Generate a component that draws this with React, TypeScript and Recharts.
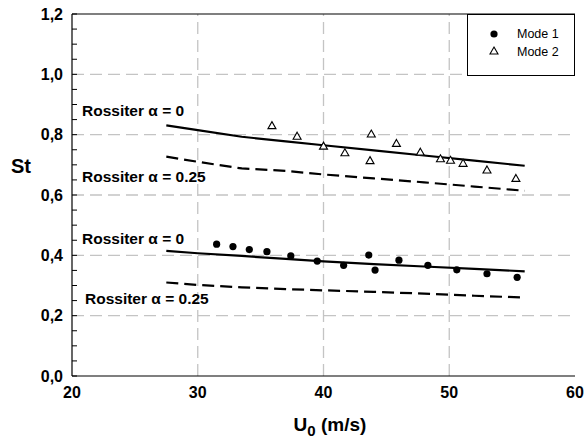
import { ComposedChart, Line, ReferenceLine, Scatter, XAxis, YAxis } from 'recharts'

// Rossiter prediction curves, sampled along U0
const rossiterU = [27.5, 30, 33.5, 37, 40, 44, 48, 52, 56]
const mode2Alpha0 = [0.831, 0.815, 0.793, 0.778, 0.765, 0.748, 0.731, 0.714, 0.697]
const mode2Alpha025 = [0.727, 0.71, 0.688, 0.68, 0.668, 0.655, 0.642, 0.628, 0.614]
const mode1Alpha0 = [0.415, 0.407, 0.398, 0.388, 0.38, 0.371, 0.363, 0.355, 0.347]
const mode1Alpha025 = [0.31, 0.302, 0.294, 0.288, 0.284, 0.279, 0.273, 0.266, 0.26]

// measured modes
const mode1U = [31.5, 32.8, 34.1, 35.5, 37.4, 39.5, 41.6, 43.6, 44.1, 46.0, 48.3, 50.6, 53.0, 55.4]
const mode1St = [0.437, 0.429, 0.419, 0.412, 0.398, 0.381, 0.367, 0.401, 0.351, 0.384, 0.367, 0.352, 0.339, 0.327]
const mode2U = [35.9, 37.9, 40.0, 41.7, 43.8, 43.7, 45.8, 47.7, 49.3, 50.1, 51.1, 53.0, 55.3]
const mode2St = [0.83, 0.795, 0.762, 0.74, 0.802, 0.714, 0.771, 0.742, 0.72, 0.715, 0.705, 0.683, 0.655]

const xTicks = [20, 30, 40, 50, 60]
const yMajor = [0, 0.2, 0.4, 0.6, 0.8, 1.0, 1.2]
const yMinor = [0, 0.05, 0.1, 0.15, 0.2, 0.25, 0.3, 0.35, 0.4, 0.45, 0.5, 0.55, 0.6, 0.65, 0.7, 0.75, 0.8, 0.85, 0.9, 0.95, 1.0, 1.05, 1.1, 1.15, 1.2]

const toPoints = (xs: number[], ys: number[]) => xs.map((u, i) => ({ u, st: ys[i] }))

const FONT = '"Liberation Sans", Arial, sans-serif'
const GRID = '#c4c4c4'

function isMajor(v: number) {
  return Math.abs(v * 5 - Math.round(v * 5)) < 1e-6
}

function LeftTick(props: any) {
  const { x, y, payload } = props
  const v = payload.value as number
  return (
    <g>
      <line x1={x} x2={x + 5} y1={y} y2={y} stroke="#000" strokeWidth={1} />
      {isMajor(v) && (
        <text x={x - 9} y={y} dy={5.5} textAnchor="end" fontSize={16} fontWeight="bold" fontFamily={FONT} fill="#000">
          {v.toFixed(1).replace('.', ',')}
        </text>
      )}
    </g>
  )
}

function RightTick(props: any) {
  const { x, y } = props
  return <line x1={x - 5} x2={x} y1={y} y2={y} stroke="#000" strokeWidth={1} />
}

function BottomTick(props: any) {
  const { x, y, payload } = props
  return (
    <text x={x} y={y + 22} textAnchor="middle" fontSize={16} fontWeight="bold" fontFamily={FONT} fill="#000">
      {payload.value}
    </text>
  )
}

function Dot(props: any) {
  const { cx, cy } = props
  return <circle cx={cx} cy={cy} r={3.6} fill="#000" />
}

function Triangle(props: any) {
  const { cx, cy } = props
  return (
    <path
      d={`M${cx},${cy - 4} L${cx + 4},${cy + 3} L${cx - 4},${cy + 3} Z`}
      fill="#fff"
      stroke="#000"
      strokeWidth={1.1}
    />
  )
}

const labelStyle: React.CSSProperties = {
  position: 'absolute',
  fontFamily: FONT,
  fontWeight: 'bold',
  fontSize: 15.5,
  whiteSpace: 'nowrap',
  lineHeight: 1,
}

function App() {
  return (
    <div style={{ position: 'absolute', left: 0, top: 0, width: 585, height: 443, background: '#fff', fontFamily: FONT }}>
      <ComposedChart width={585} height={443} margin={{ top: 14, right: 10, bottom: 37, left: 0 }}>
        <XAxis
          type="number"
          dataKey="u"
          domain={[20, 60]}
          ticks={xTicks}
          allowDataOverflow
          height={30}
          tickLine={false}
          tickSize={0}
          tickMargin={0}
          tick={<BottomTick />}
          axisLine={{ stroke: '#000', strokeWidth: 1.2 }}
        />
        <YAxis
          yAxisId="st"
          type="number"
          dataKey="st"
          domain={[0, 1.2]}
          ticks={yMinor}
          interval={0}
          allowDataOverflow
          width={72}
          tickLine={false}
          tickSize={0}
          tickMargin={0}
          tick={<LeftTick />}
          axisLine={{ stroke: '#000', strokeWidth: 1.2 }}
        />
        <YAxis
          yAxisId="right"
          orientation="right"
          type="number"
          domain={[0, 1.2]}
          ticks={yMinor}
          interval={0}
          allowDataOverflow
          width={0}
          tickLine={false}
          tickSize={0}
          tickMargin={0}
          tick={<RightTick />}
          axisLine={{ stroke: '#000', strokeWidth: 1.2 }}
        />
        {yMajor.slice(1, -1).map((v) => (
          <ReferenceLine key={`h${v}`} yAxisId="st" y={v} stroke={GRID} strokeWidth={1.3} strokeDasharray="12 6" />
        ))}
        {xTicks.slice(1, -1).map((v) => (
          <ReferenceLine key={`v${v}`} yAxisId="st" x={v} stroke={GRID} strokeWidth={1.3} strokeDasharray="12 6" />
        ))}
        <ReferenceLine yAxisId="st" y={1.2} stroke="#000" strokeWidth={1.2} />
        <Line yAxisId="st" data={toPoints(rossiterU, mode2Alpha0)} dataKey="st" stroke="#000" strokeWidth={2.2} dot={false} isAnimationActive={false} />
        <Line yAxisId="st" data={toPoints(rossiterU, mode2Alpha025)} dataKey="st" stroke="#000" strokeWidth={2.2} strokeDasharray="12 6" dot={false} isAnimationActive={false} />
        <Line yAxisId="st" data={toPoints(rossiterU, mode1Alpha0)} dataKey="st" stroke="#000" strokeWidth={2.2} dot={false} isAnimationActive={false} />
        <Line yAxisId="st" data={toPoints(rossiterU, mode1Alpha025)} dataKey="st" stroke="#000" strokeWidth={2.2} strokeDasharray="12 6" dot={false} isAnimationActive={false} />
        <Scatter yAxisId="st" name="Mode 1" data={toPoints(mode1U, mode1St)} dataKey="st" shape={<Dot />} isAnimationActive={false} />
        <Scatter yAxisId="st" name="Mode 2" data={toPoints(mode2U, mode2St)} dataKey="st" shape={<Triangle />} isAnimationActive={false} />
      </ComposedChart>

      <div style={{ ...labelStyle, left: 82, top: 103 }}>Rossiter α = 0</div>
      <div style={{ ...labelStyle, left: 82, top: 169 }}>Rossiter α = 0.25</div>
      <div style={{ ...labelStyle, left: 82, top: 231 }}>Rossiter α = 0</div>
      <div style={{ ...labelStyle, left: 85, top: 291 }}>Rossiter α = 0.25</div>

      <div style={{ ...labelStyle, fontSize: 20, left: 11, top: 156 }}>St</div>
      <div style={{ ...labelStyle, fontSize: 19, left: 0, width: 660, textAlign: 'center', top: 415 }}>
        U<sub style={{ fontSize: 15, verticalAlign: -5 }}>0</sub> (m/s)
      </div>

      <div
        style={{
          position: 'absolute',
          left: 467,
          top: 14,
          width: 108,
          height: 62,
          boxSizing: 'border-box',
          border: '1.2px solid #000',
          background: '#fff',
          fontFamily: FONT,
          fontSize: 12,
        }}
      >
        <svg width={108} height={60} style={{ position: 'absolute', left: 0, top: 0 }}>
          <circle cx={26} cy={19} r={3.6} fill="#000" />
          <path d="M26,32 L30,39 L22,39 Z" fill="#fff" stroke="#000" strokeWidth={1.1} />
          <text x={49} y={23} fontSize={12.5} fontFamily={FONT}>Mode 1</text>
          <text x={49} y={41} fontSize={12.5} fontFamily={FONT}>Mode 2</text>
        </svg>
      </div>
    </div>
  )
}

export default App
